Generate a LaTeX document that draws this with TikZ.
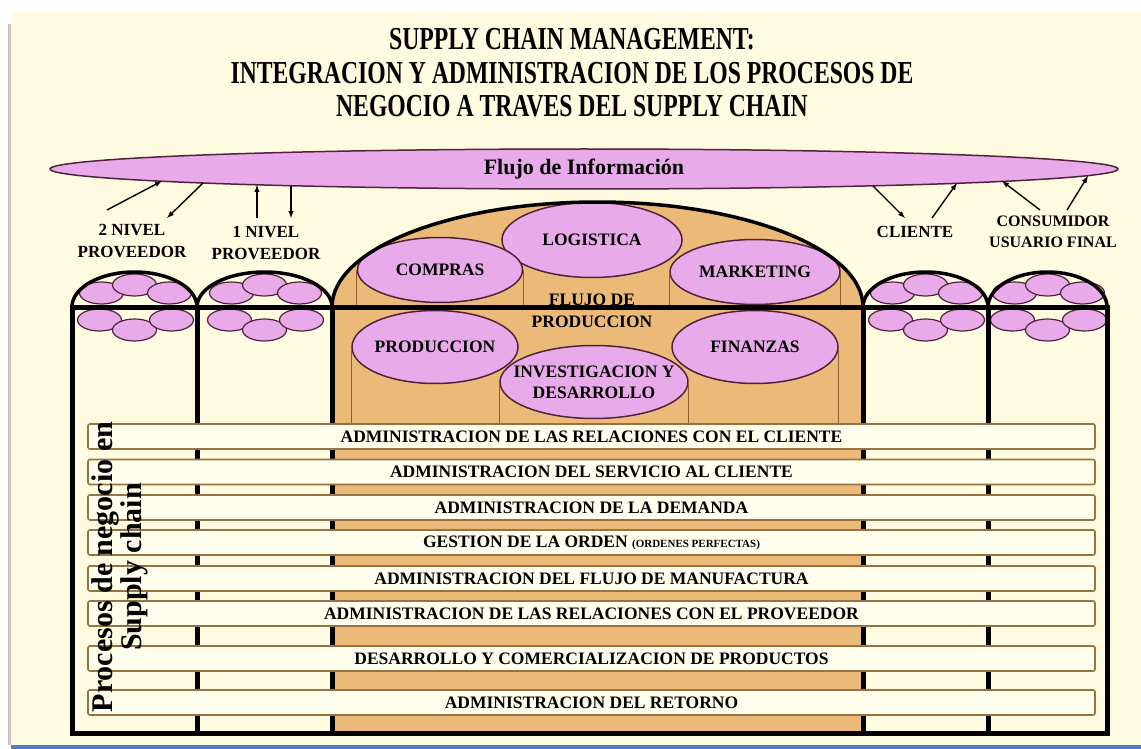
\documentclass[tikz,border=0pt]{standalone}
\usepackage{fontspec}
\setmainfont{Liberation Serif}
\usepackage{graphicx}
\usetikzlibrary{shapes.geometric}
\definecolor{crema}{RGB}{255,251,224}
\definecolor{cremabarra}{RGB}{255,253,236}
\definecolor{rosa}{RGB}{233,170,233}
\definecolor{borderosa}{RGB}{80,35,60}
\definecolor{tostado}{RGB}{236,186,120}
\definecolor{cafe}{RGB}{140,95,45}
\definecolor{bordebarra}{RGB}{150,115,65}
\definecolor{azul}{RGB}{79,129,189}
\newcommand{\celdas}[1]{%
  \draw[celda] (#1-33,293) ellipse [x radius=22pt,y radius=11pt];
  \draw[celda] (#1,285) ellipse [x radius=22pt,y radius=11pt];
  \draw[celda] (#1+35,293) ellipse [x radius=22pt,y radius=11pt];
  \draw[celda] (#1-35,320) ellipse [x radius=22pt,y radius=11pt];
  \draw[celda] (#1,330) ellipse [x radius=22pt,y radius=11pt];
  \draw[celda] (#1+37,320) ellipse [x radius=22pt,y radius=11pt];
}

\begin{document}
\begin{tikzpicture}[x=1pt,y=-1pt,
    titulo/.style={font=\fontsize{32}{34}\selectfont\bfseries,inner sep=0pt},
    etiqueta/.style={font=\fontsize{17}{22}\selectfont\bfseries,align=center,inner sep=0pt},
    area/.style={ellipse,draw=borderosa,line width=1.5pt,fill=rosa,inner sep=0pt,
      font=\fontsize{17.5}{21}\selectfont\bfseries,align=center},
    celda/.style={draw=borderosa,line width=1.2pt,fill=rosa},
    poste/.style={draw=cafe,line width=1.2pt},
    viga/.style={line width=5pt},
    cupula/.style={line width=3.5pt},
    proceso/.style={draw=bordebarra,line width=1.6pt,fill=cremabarra,rounded corners=2pt,
      minimum width=1007pt,minimum height=25pt,inner sep=0pt,
      font=\fontsize{17.5}{20}\selectfont\bfseries},
    flecha/.style={-latex,line width=1.4pt}]
  \useasboundingbox (0,0) rectangle (1141,749);
  \fill[white] (0,0) rectangle (1141,749);
  \fill[crema] (11,12) rectangle (1141,745);
  \fill[gray!45] (8,24) rectangle (11,745);
  \fill[azul] (11,745) rectangle (1141,749);

  \node[titulo] (tit1) at (572,39) {\scalebox{0.74}[1]{SUPPLY CHAIN MANAGEMENT:}};
  \node[titulo] (tit2) at (572,73) {\scalebox{0.74}[1]{INTEGRACION Y ADMINISTRACION DE LOS PROCESOS DE}};
  \node[titulo] (tit3) at (572,106) {\scalebox{0.74}[1]{NEGOCIO A TRAVES DEL SUPPLY CHAIN}};

  \node[ellipse,draw=borderosa,fill=rosa,line width=1.5pt,minimum width=1068pt,minimum height=40pt,
    inner sep=0pt,font=\fontsize{22}{24}\selectfont\bfseries] (info) at (584,169) {Flujo de Información};

  \node[etiqueta] (nivel2) at (132,241) {2 NIVEL\\PROVEEDOR};
  \node[etiqueta] (nivel1) at (266,243) {1 NIVEL\\PROVEEDOR};
  \node[etiqueta] (cliente) at (915,232) {CLIENTE};
  \node[etiqueta,font=\fontsize{16}{21}\selectfont\bfseries] (consumidor) at (1053,232) {CONSUMIDOR\\USUARIO FINAL};

  \coordinate (a1) at (107,210);
  \coordinate (b1) at (162,181);
  \coordinate (a2) at (203,183);
  \coordinate (b2) at (167,218);
  \coordinate (a3) at (257,218);
  \coordinate (b3) at (257,185);
  \coordinate (a4) at (291,186);
  \coordinate (b4) at (291,218);
  \coordinate (a5) at (873,186);
  \coordinate (b5) at (905,218);
  \coordinate (a6) at (932,218);
  \coordinate (b6) at (957,183);
  \coordinate (a7) at (1040,210);
  \coordinate (b7) at (1002,181);
  \coordinate (a8) at (1067,210);
  \coordinate (b8) at (1088,176);
  \draw[flecha] (a1) -- (b1);
  \draw[flecha] (a2) -- (b2);
  \draw[flecha] (a3) -- (b3);
  \draw[flecha] (a4) -- (b4);
  \draw[flecha] (a5) -- (b5);
  \draw[flecha] (a6) -- (b6);
  \draw[flecha] (a7) -- (b7);
  \draw[flecha] (a8) -- (b8);

  \coordinate (deck) at (0,307);
  \coordinate (piso) at (0,425);
  \fill[tostado] (332,307) arc[start angle=180,end angle=0,x radius=265.5pt,y radius=105pt]
    -- (863,733) -- (332,733) -- cycle;

  \node[area,minimum width=180pt,minimum height=75pt] (logistica) at (592,240) {LOGISTICA};
  \node[area,minimum width=165pt,minimum height=65pt] (compras) at (440,270) {COMPRAS};
  \node[area,minimum width=170pt,minimum height=65pt] (marketing) at (755,272) {MARKETING};
  \node[area,minimum width=188pt,minimum height=73pt] (investigacion) at (594,382)
    {\makebox[0pt]{INVESTIGACION Y}\\\makebox[0pt]{DESARROLLO}};
  \node[area,minimum width=166pt,minimum height=73pt] (produccion) at (435,347) {\makebox[0pt]{PRODUCCION}};
  \node[area,minimum width=166pt,minimum height=73pt] (finanzas) at (755,347) {FINANZAS};
  \draw[poste] (compras.west) -- (compras.west |- deck);
  \draw[poste] (compras.east) -- (compras.east |- deck);
  \draw[poste] (marketing.west) -- (marketing.west |- deck);
  \draw[poste] (marketing.east) -- (marketing.east |- deck);
  \draw[poste] (produccion.west) -- (produccion.west |- piso);
  \draw[poste] (investigacion.west) -- (investigacion.west |- piso);
  \draw[poste] (investigacion.east) -- (investigacion.east |- piso);
  \draw[poste] (finanzas.east) -- (finanzas.east |- piso);
  \node[etiqueta,font=\fontsize{17.5}{22}\selectfont\bfseries] (flujo) at (592,311) {FLUJO DE\\PRODUCCION};

  \celdas{134.5}
  \celdas{264.5}
  \celdas{925.5}
  \celdas{1047.5}

  \draw[cupula] (72,307) arc[start angle=180,end angle=0,x radius=62.5pt,y radius=35pt];
  \draw[cupula] (197,307) arc[start angle=180,end angle=0,x radius=67.5pt,y radius=35pt];
  \draw[cupula] (863,307) arc[start angle=180,end angle=0,x radius=62.5pt,y radius=35pt];
  \draw[cupula] (988,307) arc[start angle=180,end angle=0,x radius=59.5pt,y radius=35pt];
  \draw[cupula] (332,307) arc[start angle=180,end angle=0,x radius=265.5pt,y radius=105pt];
  \draw[viga] (72,307) rectangle (1107,733);
  \draw[viga] (197,307) -- (197,733);
  \draw[viga] (332,307) -- (332,733);
  \draw[viga] (863,307) -- (863,733);
  \draw[viga] (988,307) -- (988,733);

  \node[proceso] (p1) at (591.5,436.5) {ADMINISTRACION DE LAS RELACIONES CON EL CLIENTE};
  \node[proceso] (p2) at (591.5,472) {ADMINISTRACION DEL SERVICIO AL CLIENTE};
  \node[proceso] (p3) at (591.5,507.5) {ADMINISTRACION DE LA DEMANDA};
  \node[proceso] (p4) at (591.5,542.5) {GESTION DE LA ORDEN {\fontsize{11}{12}\selectfont(ORDENES PERFECTAS)}};
  \node[proceso] (p5) at (591.5,578.5) {ADMINISTRACION DEL FLUJO DE MANUFACTURA};
  \node[proceso] (p6) at (591.5,613.5) {ADMINISTRACION DE LAS RELACIONES CON EL PROVEEDOR};
  \node[proceso] (p7) at (591.5,658.5) {DESARROLLO Y COMERCIALIZACION DE PRODUCTOS};
  \node[proceso] (p8) at (591.5,702.5) {ADMINISTRACION DEL RETORNO};

  \node[rotate=90,align=center,inner sep=0pt,font=\fontsize{30}{25}\selectfont\bfseries] (procesos)
    at (120,567) {Procesos de negocio en\\Supply chain};
\end{tikzpicture}
\end{document}
